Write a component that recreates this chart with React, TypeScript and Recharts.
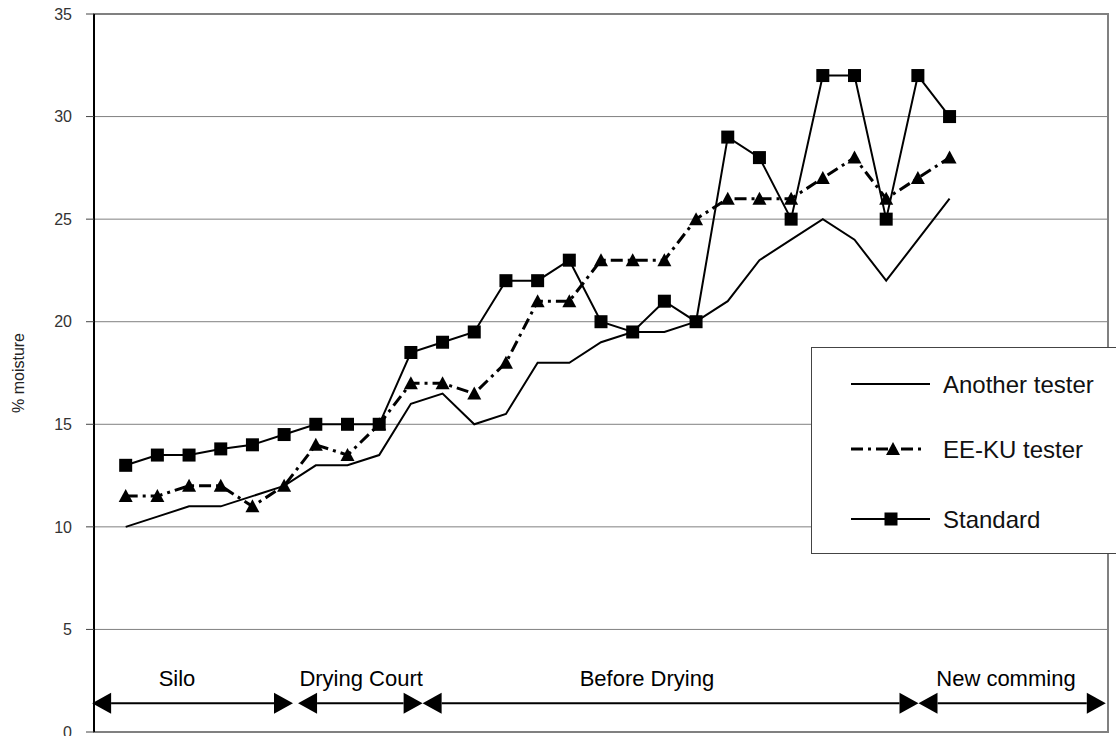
import {
    CartesianGrid, Line, LineChart, ReferenceArea, ReferenceLine, XAxis, YAxis,
} from 'recharts';

// sample number along the sampling route (1..27), x axis runs 0..32
const samples = [1, 2, 3, 4, 5, 6, 7, 8, 9, 10, 11, 12, 13, 14, 15, 16, 17, 18, 19, 20, 21, 22, 23, 24, 25, 26, 27];

const anotherTester = [10, 10.5, 11, 11, 11.5, 12, 13, 13, 13.5, 16, 16.5, 15, 15.5, 18, 18, 19, 19.5, 19.5, 20, 21, 23, 24, 25, 24, 22, 24, 26];
const eekuTester = [11.5, 11.5, 12, 12, 11, 12, 14, 13.5, 15, 17, 17, 16.5, 18, 21, 21, 23, 23, 23, 25, 26, 26, 26, 27, 28, 26, 27, 28];
const standard = [13, 13.5, 13.5, 13.8, 14, 14.5, 15, 15, 15, 18.5, 19, 19.5, 22, 22, 23, 20, 19.5, 21, 20, 29, 28, 25, 32, 32, 25, 32, 30];

const yTicks = [0, 5, 10, 15, 20, 25, 30, 35];

// zones under the curves (x in sample units)
const zoneLabels = ['Silo', 'Drying Court', 'Before Drying', 'New comming'];
const zoneFrom = [-0.06, 6.44, 10.37, 26.02];
const zoneTo = [6.28, 10.37, 26.02, 31.93];
const zoneLabelX = [2.62, 8.43, 17.45, 28.78];
const ZONE_Y = 1.4;

const FONT = '"Liberation Sans", Arial, sans-serif';
const GRID = '#808080';

const data = samples.map((s, i) => ({
    sample: s,
    another: anotherTester[i],
    eeku: eekuTester[i],
    standard: standard[i],
}));

function triangle(cx: number, cy: number) {
    return `M${cx},${cy - 7} L${cx + 7},${cy + 6} L${cx - 7},${cy + 6} Z`;
}

const renderTriangle = (p: any) => {
    if (p.cx == null || p.cy == null) return <g key={`t${p.index}`} />;
    return <path key={`t${p.index}`} d={triangle(p.cx, p.cy)} fill="#000" />;
};

const renderSquare = (p: any) => {
    if (p.cx == null || p.cy == null) return <g key={`s${p.index}`} />;
    return <rect key={`s${p.index}`} x={p.cx - 6.5} y={p.cy - 6.5} width={13} height={13} fill="#000" />;
};

function YLabel({ viewBox }: any) {
    if (!viewBox) return null;
    const x = viewBox.x + 18;
    const y = viewBox.y + viewBox.height / 2;
    return (
        <text x={x} y={y} transform={`rotate(-90, ${x}, ${y})`} textAnchor="middle"
            dominantBaseline="central" fontSize={16} fontFamily={FONT} fill="#222">
            % moisture
        </text>
    );
}

// double-headed arrow with its zone name above it
function zoneShape(label: string, from: number, to: number, labelX: number) {
    return (p: any) => {
        const { x1, y1, x2 } = p;
        const tx = x1 + ((labelX - from) / (to - from)) * (x2 - x1);
        const L = 19, H = 10.5;
        return (
            <g>
                <line x1={x1 + L} y1={y1} x2={x2 - L} y2={y1} stroke="#000" strokeWidth={2} />
                <path d={`M${x1},${y1} L${x1 + L},${y1 - H} L${x1 + L},${y1 + H} Z`} fill="#000" />
                <path d={`M${x2},${y1} L${x2 - L},${y1 - H} L${x2 - L},${y1 + H} Z`} fill="#000" />
                <text x={tx} y={y1 - 25} textAnchor="middle" dominantBaseline="central"
                    fontSize={22} fontFamily={FONT} fill="#000">{label}</text>
            </g>
        );
    };
}

function LegendBox() {
    const rows = [
        { name: 'Another tester', kind: 'plain', y: 36 },
        { name: 'EE-KU tester', kind: 'tri', y: 101 },
        { name: 'Standard', kind: 'sq', y: 171 },
    ];
    return (
        <div style={{
            position: 'absolute', left: 811, top: 347, width: 330, height: 207,
            background: '#fff', border: '1px solid #444', boxSizing: 'border-box',
        }}>
            <svg width={330} height={207} style={{ position: 'absolute', left: 0, top: 0 }}>
                {rows.map((r) => (
                    <g key={r.name}>
                        {r.kind === 'tri' ? (
                            <>
                                <line x1={39} y1={r.y} x2={112} y2={r.y} stroke="#000" strokeWidth={3} strokeDasharray="12 5 3 5" />
                                <path d={triangle(81, r.y)} fill="#000" />
                            </>
                        ) : (
                            <line x1={39} y1={r.y} x2={118} y2={r.y} stroke="#000" strokeWidth={2} />
                        )}
                        {r.kind === 'sq' && <rect x={72.5} y={r.y - 6.5} width={13} height={13} fill="#000" />}
                        <text x={131} y={r.y} dominantBaseline="central" fontSize={24} fontFamily={FONT} fill="#111">
                            {r.name}
                        </text>
                    </g>
                ))}
            </svg>
        </div>
    );
}

export default function App() {
    return (
        <div style={{ position: 'absolute', left: 0, top: 0, width: 1116, height: 736, background: '#fff' }}>
            <LineChart width={1116} height={736} data={data} margin={{ top: 14, right: 8, bottom: 4, left: 0 }}>
                <CartesianGrid vertical={false} stroke={GRID} strokeWidth={1} />
                <ReferenceArea x1={0} x2={32} y1={0} y2={35} fill="none" stroke={GRID} strokeWidth={2} />
                <XAxis dataKey="sample" type="number" domain={[0, 32]} hide />
                <YAxis
                    width={94}
                    domain={[0, 35]}
                    ticks={yTicks}
                    interval={0}
                    axisLine={{ stroke: '#000', strokeWidth: 2 }}
                    tickLine={{ stroke: '#444' }}
                    tickSize={8}
                    tickMargin={14}
                    tick={{ fontSize: 16, fill: '#333', fontFamily: FONT }}
                    label={<YLabel />}
                />

                {zoneLabels.map((label, i) => (
                    <ReferenceLine
                        key={label}
                        segment={[{ x: zoneFrom[i], y: ZONE_Y }, { x: zoneTo[i], y: ZONE_Y }]}
                        ifOverflow="visible"
                        shape={zoneShape(label, zoneFrom[i], zoneTo[i], zoneLabelX[i])}
                    />
                ))}

                <Line dataKey="another" name="Another tester" type="linear" stroke="#000" strokeWidth={2}
                    dot={false} activeDot={false} isAnimationActive={false} />
                <Line dataKey="eeku" name="EE-KU tester" type="linear" stroke="#000" strokeWidth={3}
                    strokeDasharray="12 5 3 5" dot={renderTriangle} activeDot={false} isAnimationActive={false} />
                <Line dataKey="standard" name="Standard" type="linear" stroke="#000" strokeWidth={2}
                    dot={renderSquare} activeDot={false} isAnimationActive={false} />
            </LineChart>
            <LegendBox />
        </div>
    );
}
